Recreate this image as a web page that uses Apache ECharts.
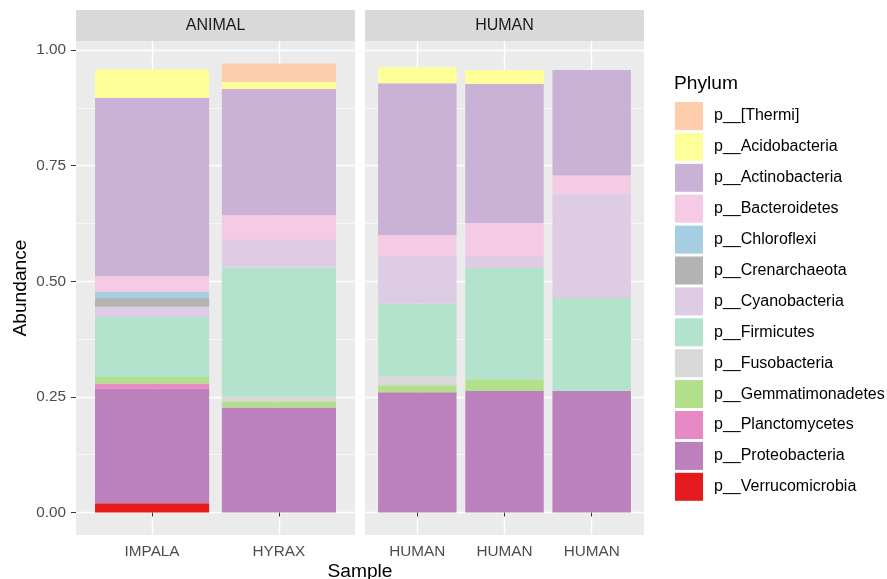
<!DOCTYPE html>
<html>
<head>
<meta charset="utf-8">
<script src="https://cdn.jsdelivr.net/npm/echarts@6/dist/echarts.min.js"></script>
<style>html,body{margin:0;padding:0;background:#fff}#c{width:887px;height:579px}</style>
</head>
<body>
<div id="c"></div>
<script>
const phyla = ['p__[Thermi]', 'p__Acidobacteria', 'p__Actinobacteria', 'p__Bacteroidetes', 'p__Chloroflexi', 'p__Crenarchaeota', 'p__Cyanobacteria', 'p__Firmicutes', 'p__Fusobacteria', 'p__Gemmatimonadetes', 'p__Planctomycetes', 'p__Proteobacteria', 'p__Verrucomicrobia'];
const colors = ['#FDCDAC', '#FFFF99', '#CAB2D6', '#F4CAE4', '#A6CEE3', '#B3B3B3', '#DECBE4', '#B3E2CD', '#D9D9D9', '#B2DF8A', '#E78AC3', '#BC80BD', '#E41A1C'];
const facets = ['ANIMAL', 'HUMAN'];
const animalSamples = ['IMPALA', 'HYRAX'];
const humanSamples = ['HUMAN', 'HUMAN', 'HUMAN'];
// abundance per phylum (same order as phyla)
const impala = [0, 0.061, 0.386, 0.034, 0.013, 0.019, 0.022, 0.130, 0, 0.014, 0.011, 0.248, 0.020];
const hyrax  = [0.040, 0.015, 0.273, 0.052, 0, 0, 0.061, 0.279, 0.011, 0.013, 0, 0.227, 0];
const human1 = [0, 0.035, 0.328, 0.045, 0, 0, 0.103, 0.158, 0.019, 0.015, 0, 0.260, 0];
const human2 = [0, 0.030, 0.301, 0.071, 0, 0, 0.026, 0.241, 0, 0.025, 0, 0.263, 0];
const human3 = [0, 0, 0.228, 0.039, 0, 0, 0.226, 0.201, 0, 0, 0, 0.263, 0];
const yTicks = [0, 0.25, 0.5, 0.75, 1];
const yMinor = [0.125, 0.375, 0.625, 0.875];

const FONT = 'Liberation Sans, Arial, sans-serif';
const AX = 15.3, TT = 19.2;
const panelTop = 41, panelH = 494, panelW = 279;
const panelLeft = [76, 365];
const yMin = -0.0486, yMax = 1.0196;
const panelSamples = [animalSamples, humanSamples];
const panelData = [[impala, hyrax], [human1, human2, human3]];

const grids = panelLeft.map(l => ({left: l, top: panelTop, width: panelW, height: panelH, show: true, backgroundColor: '#EBEBEB', borderWidth: 0}));

const xAxes = panelSamples.map((s, gi) => {
  const pos = s.map((_, i) => i + 1);
  return {
    type: 'value', gridIndex: gi, min: 0.4, max: s.length + 0.6,
    axisLine: {show: false},
    axisTick: {show: true, customValues: pos, length: 4, lineStyle: {color: '#333', width: 1}},
    axisLabel: {customValues: pos, margin: 9, color: '#4D4D4D', fontSize: AX, fontFamily: FONT,
      formatter: v => s[Math.round(v) - 1] || ''},
    splitLine: {show: true, lineStyle: {color: '#fff', width: 1.4}}
  };
});

const yAxes = [];
[0, 1].forEach(gi => {
  yAxes.push({
    type: 'value', gridIndex: gi, min: yMin, max: yMax,
    axisLine: {show: false},
    axisTick: {show: gi === 0, customValues: yTicks, length: 5, lineStyle: {color: '#333', width: 1}},
    axisLabel: {show: gi === 0, customValues: yTicks, margin: 10, color: '#4D4D4D', fontSize: AX, fontFamily: FONT,
      formatter: v => v.toFixed(2)},
    splitLine: {show: true, lineStyle: {color: '#fff', width: 1.4}},
    name: gi === 0 ? 'Abundance' : '', nameLocation: 'middle', nameRotate: 90, nameGap: 46,
    nameTextStyle: {fontSize: TT, color: '#000', fontFamily: FONT}
  });
  yAxes.push({
    type: 'value', gridIndex: gi, min: yMin, max: yMax, position: 'left',
    axisLine: {show: false},
    axisTick: {show: false, customValues: yMinor},
    axisLabel: {show: false, customValues: yMinor},
    splitLine: {show: true, lineStyle: {color: '#fff', width: 0.6}}
  });
});

const series = [];
for (let k = phyla.length - 1; k >= 0; k--) {
  panelData.forEach((samples, gi) => {
    const unit = panelW / (samples.length + 0.2);
    series.push({
      name: phyla[k], type: 'bar', stack: 'p' + gi,
      xAxisIndex: gi, yAxisIndex: gi * 2,
      barWidth: 0.9 * unit,
      encode: {x: 1, y: 0},
      itemStyle: {color: colors[k]},
      emphasis: {disabled: true},
      data: samples.map((arr, i) => [arr[k], i + 1])
    });
  });
}

const graphics = [];
facets.forEach((f, gi) => {
  graphics.push({type: 'rect', shape: {x: panelLeft[gi], y: 10, width: panelW, height: 31}, style: {fill: '#D9D9D9'}});
  graphics.push({type: 'text', x: panelLeft[gi] + panelW / 2, y: 26,
    style: {text: f, fill: '#1A1A1A', font: '16px ' + FONT, textAlign: 'center', textVerticalAlign: 'middle'}});
});
graphics.push({type: 'text', x: (panelLeft[0] + panelLeft[1] + panelW) / 2, y: 572,
  style: {text: 'Sample', fill: '#000', font: TT + 'px ' + FONT, textAlign: 'center', textVerticalAlign: 'middle'}});

const chart = echarts.init(document.getElementById('c'), null, {renderer: 'canvas'});
chart.setOption({
  animation: false,
  backgroundColor: '#fff',
  title: {text: 'Phylum', left: 674, top: 74, padding: 0, textStyle: {fontSize: TT, fontWeight: 'normal', color: '#000', fontFamily: FONT}},
  legend: {
    data: phyla, orient: 'vertical', left: 675, top: 102, padding: 0,
    itemWidth: 28, itemHeight: 28, itemGap: 2.9, icon: 'rect',
    textStyle: {fontSize: 16, color: '#000', fontFamily: FONT, padding: [0, 0, 0, 6]}
  },
  grid: grids,
  xAxis: xAxes,
  yAxis: yAxes,
  series: series,
  graphic: graphics
});
</script>
</body>
</html>
